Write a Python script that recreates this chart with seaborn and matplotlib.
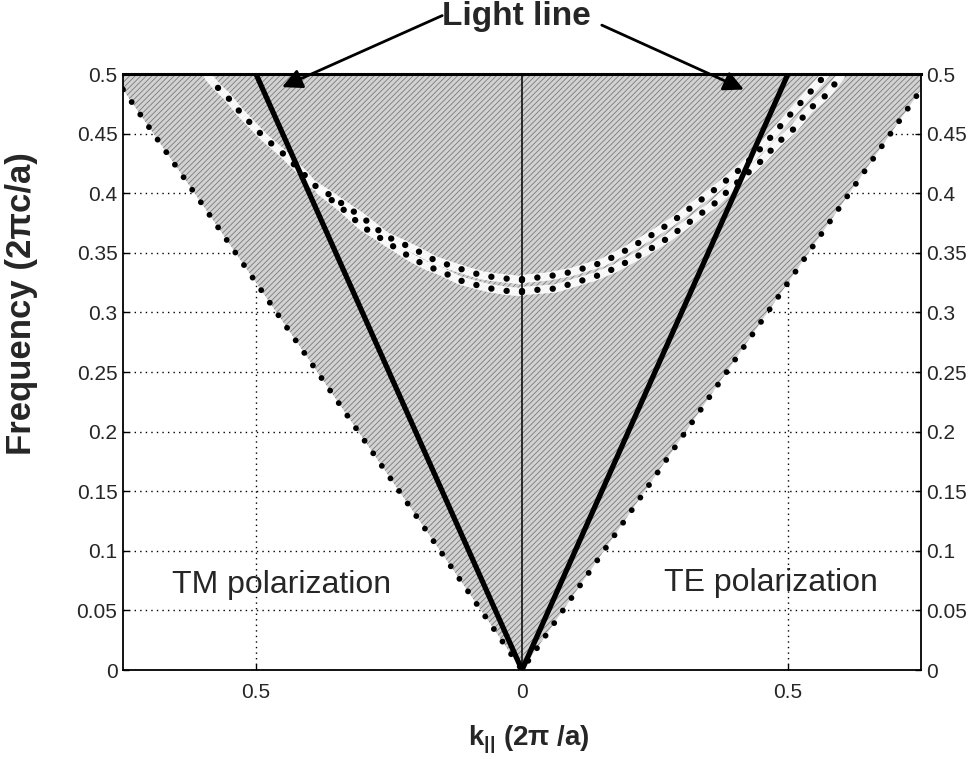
import numpy as np
import pandas as pd
import matplotlib
matplotlib.use("Agg")
import matplotlib.pyplot as plt
import seaborn as sns

# ---------------- data ----------------
# outer boundary of the shaded continuum (dotted lines)
edge_k = [-0.75, -0.60, -0.40, -0.20, 0.0, 0.20, 0.40, 0.60, 0.75]
edge_f = [0.487, 0.390, 0.260, 0.130, 0.0, 0.130, 0.260, 0.390, 0.487]

# light lines
light_k = [-0.5, 0.0, 0.5]
light_f = [0.5, 0.0, 0.5]

# TE guided bands (right half)
te_up_k = [0.0, 0.047, 0.094, 0.152, 0.199, 0.244, 0.282, 0.368, 0.415, 0.454, 0.483, 0.512, 0.540, 0.560, 0.571]
te_up_f = [0.328, 0.330, 0.334, 0.342, 0.353, 0.365, 0.376, 0.405, 0.422, 0.440, 0.455, 0.470, 0.484, 0.494, 0.500]
te_lo_k = [0.0, 0.062, 0.100, 0.137, 0.175, 0.212, 0.244, 0.273, 0.361, 0.392, 0.452, 0.480, 0.511, 0.539, 0.571, 0.599]
te_lo_f = [0.318, 0.320, 0.325, 0.330, 0.337, 0.346, 0.354, 0.362, 0.391, 0.404, 0.428, 0.442, 0.454, 0.470, 0.482, 0.498]

# TM guided bands (left half)
tm_up_k = [0.0, -0.043, -0.075, -0.105, -0.133, -0.165, -0.194, -0.226, -0.256, -0.301, -0.331,
           -0.363, -0.395, -0.410, -0.451, -0.485, -0.513, -0.528, -0.556, -0.573, -0.590]
tm_up_f = [0.327, 0.329, 0.331, 0.335, 0.339, 0.344, 0.351, 0.358, 0.364, 0.380, 0.389,
           0.399, 0.408, 0.416, 0.434, 0.447, 0.460, 0.467, 0.482, 0.489, 0.498]
tm_lo_k = [0.0, -0.028, -0.058, -0.086, -0.118, -0.150, -0.179, -0.209, -0.237, -0.300, -0.340, -0.380]
tm_lo_f = [0.317, 0.318, 0.320, 0.323, 0.327, 0.334, 0.339, 0.346, 0.354, 0.372, 0.388, 0.402]

y_ticks = [0, 0.05, 0.1, 0.15, 0.2, 0.25, 0.3, 0.35, 0.4, 0.45, 0.5]
y_labels = ["0", "0.05", "0.1", "0.15", "0.2", "0.25", "0.3", "0.35", "0.4", "0.45", "0.5"]
x_ticks = [-0.5, 0, 0.5]
x_labels = ["0.5", "0", "0.5"]

# ---------------- style ----------------
sns.set_style("white")
plt.rcParams["font.family"] = ["Liberation Sans", "DejaVu Sans"]
plt.rcParams["mathtext.fontset"] = "custom"
plt.rcParams["mathtext.rm"] = "Liberation Sans"
plt.rcParams["mathtext.bf"] = "Liberation Sans:bold"
plt.rcParams["hatch.linewidth"] = 0.6
plt.rcParams["hatch.color"] = "#7a7a7a"

fig = plt.figure(figsize=(9.73, 7.59), dpi=100)
ax = fig.add_axes([123 / 973, 89 / 759, 798 / 973, 596 / 759])

# grid below everything
ax.set_axisbelow(True)
ax.grid(True, linestyle=(0, (1, 3)), color="black", linewidth=1.0)

# shaded continuum
ax.fill_between(edge_k, edge_f, 0.5, facecolor="#d2d2d2", hatch="//////",
                edgecolor="#7a7a7a", linewidth=0, zorder=1)


def draw(kx, fy, **kw):
    df = pd.DataFrame({"k": kx, "f": fy})
    sns.lineplot(data=df, x="k", y="f", sort=False, estimator=None, ax=ax, **kw)


bands = [(te_up_k, te_up_f), (te_lo_k, te_lo_f), (tm_up_k, tm_up_f), (tm_lo_k, tm_lo_f)]

# light white halo for guided bands
for kk, ff in bands:
    draw(kk, ff, color="white", linewidth=6.0, zorder=2, solid_capstyle="round", alpha=0.9)

# outer dotted boundaries
draw(edge_k, edge_f, color="black", linewidth=4.2, zorder=4,
     linestyle=(0, (0.01, 2.6)), dash_capstyle="round")

# guided bands
for kk, ff in bands:
    draw(kk, ff, color="black", linewidth=4.6, zorder=4,
         linestyle=(0, (0.01, 2.4)), dash_capstyle="round")

# light lines
draw(light_k, light_f, color="black", linewidth=3.8, zorder=5, solid_joinstyle="miter")

# centre line
ax.axvline(0, color="black", linewidth=1.1, zorder=5)

ax.set_xlim(-0.75, 0.75)
ax.set_ylim(0, 0.5)
ax.set_xticks(x_ticks)
ax.set_xticklabels(x_labels)
ax.set_yticks(y_ticks)
ax.set_yticklabels(y_labels)
ax.tick_params(axis="both", direction="in", length=4, width=1, labelsize=15, color="black")
ax.tick_params(axis="y", left=True, right=True, labelleft=True, labelright=True, pad=4)
ax.tick_params(axis="x", bottom=True, top=False, pad=9)
for s in ax.spines.values():
    s.set_visible(True)
    s.set_color("black")
    s.set_linewidth(1.3)
ax.spines["top"].set_linewidth(2.2)
ax.spines["top"].set_zorder(6)

ax.set_xlabel(r"$\mathbf{k}_{\mathbf{||}}$ (2π /a)", fontsize=20, fontweight="bold")
ax.set_ylabel("Frequency (2πc/a)", fontsize=25, fontweight="bold")
ax.xaxis.set_label_coords(0.509, -0.09)
ax.yaxis.set_label_coords(-0.106, 0.615)

ax.text(-0.658, 0.071, "TM polarization", fontsize=23, ha="left", va="center", zorder=6)
ax.text(0.267, 0.073, "TE polarization", fontsize=23, ha="left", va="center", zorder=6)

# "Light line" annotation
ax.text(-0.01, 0.548, "Light line", fontsize=24, fontweight="bold", ha="center", va="center",
        clip_on=False)
arrow = dict(arrowstyle="-|>", color="black", lw=2.0, mutation_scale=30, shrinkA=0, shrinkB=0)
ax.annotate("", xy=(-0.451, 0.489), xytext=(-0.150, 0.549), arrowprops=arrow,
            annotation_clip=False, zorder=7)
ax.annotate("", xy=(0.417, 0.487), xytext=(0.150, 0.541), arrowprops=arrow,
            annotation_clip=False, zorder=7)

fig.savefig("out.png", dpi=100)
